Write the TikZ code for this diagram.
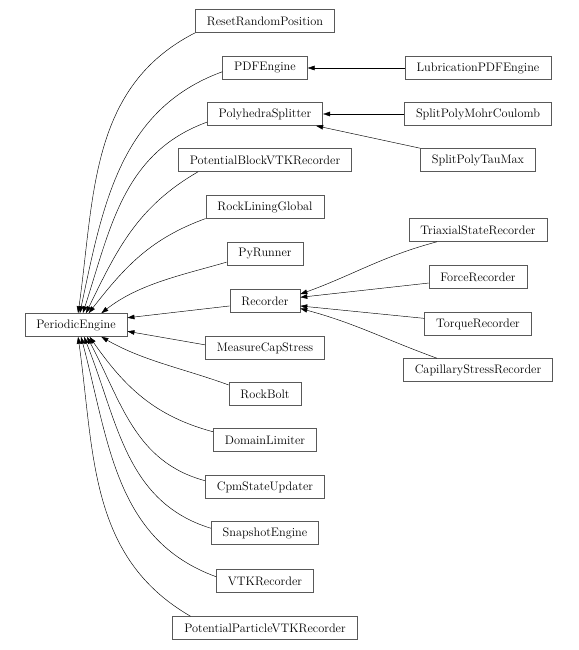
\documentclass[tikz,border=0pt]{standalone}
\usepackage{xcolor}
\usepackage{tikz}
\usetikzlibrary{calc, positioning, arrows.meta}

\begin{document}
\begin{tikzpicture}[x=1pt, y=1pt,
  cls/.style={draw=black!65, line width=0.6pt, font=\fontsize{12.3}{14}\selectfont, inner xsep=11.5pt, inner ysep=2pt, minimum height=23pt},
  inh/.style={-{Triangle[length=7pt,width=4.6pt]}, line width=0.45pt}]
\useasboundingbox (0,0) rectangle (578,-650);
% base class
\node[cls] (pe) at (76,-325) {PeriodicEngine};
% direct children
\node[cls] (rrp) at (265,-21) {ResetRandomPosition};
\node[cls] (pdf) at (265,-68) {PDFEngine};
\node[cls] (poly) at (265,-114) {PolyhedraSplitter};
\node[cls] (pbvtk) at (265,-160) {PotentialBlockVTKRecorder};
\node[cls] (rlg) at (265,-207) {RockLiningGlobal};
\node[cls] (pyr) at (265,-254) {PyRunner};
\node[cls] (rec) at (265,-301) {Recorder};
\node[cls] (mcs) at (265,-348) {MeasureCapStress};
\node[cls] (rb) at (265,-394) {RockBolt};
\node[cls] (dl) at (265,-440) {DomainLimiter};
\node[cls] (cpm) at (265,-487) {CpmStateUpdater};
\node[cls] (snap) at (265,-533) {SnapshotEngine};
\node[cls] (vtk) at (265,-581) {VTKRecorder};
\node[cls] (ppvtk) at (265,-628) {PotentialParticleVTKRecorder};
% third column
\node[cls] (lub) at (478,-68) {LubricationPDFEngine};
\node[cls] (spmc) at (478,-114) {SplitPolyMohrCoulomb};
\node[cls] (sptm) at (478,-160) {SplitPolyTauMax};
\node[cls] (tsr) at (478,-230) {TriaxialStateRecorder};
\node[cls] (fr) at (478,-277) {ForceRecorder};
\node[cls] (tr) at (478,-324) {TorqueRecorder};
\node[cls] (csr) at (478,-370) {CapillaryStressRecorder};
% edges into PeriodicEngine
\draw[inh] (rrp.south west) to[out=207, in=82] (pe.80);
\draw[inh] (pdf.185) to[out=200, in=78] (pe.72);
\draw[inh] (poly.188) to[out=200, in=72] (pe.60);
\draw[inh] (pbvtk.190) to[out=210, in=64] (pe.50);
\draw[inh] (rlg.191) to[out=200, in=52] (pe.43);
\draw[inh] (pyr.192) to[out=196, in=38, looseness=0.9] (pe.25);
\draw[inh] (rec.188) -- (pe.8);
\draw[inh] (mcs.177) -- (pe.-7);
\draw[inh] (rb.166) to[out=160, in=-30, looseness=0.9] (pe.-25);
\draw[inh] (dl.171) to[out=165, in=-55] (pe.-41);
\draw[inh] (cpm.174) to[out=165, in=-62] (pe.-47);
\draw[inh] (snap.175) to[out=163, in=-68] (pe.-56);
\draw[inh] (vtk.175) to[out=160, in=-75] (pe.-67);
\draw[inh] (ppvtk.171) to[out=150, in=-82] (pe.-80);
% second level
\draw[inh] (lub.west) -- (pdf.east);
\draw[inh] (spmc.west) -- (poly.east);
\draw[inh] (sptm.north west) -- (poly.347);
\draw[inh] (tsr.196) to[out=195, in=20] (rec.11);
\draw[inh] (fr.187) -- (rec.6);
\draw[inh] (tr.174) -- (rec.352);
\draw[inh] (csr.164) to[out=160, in=-15] (rec.348);
\end{tikzpicture}
\end{document}
